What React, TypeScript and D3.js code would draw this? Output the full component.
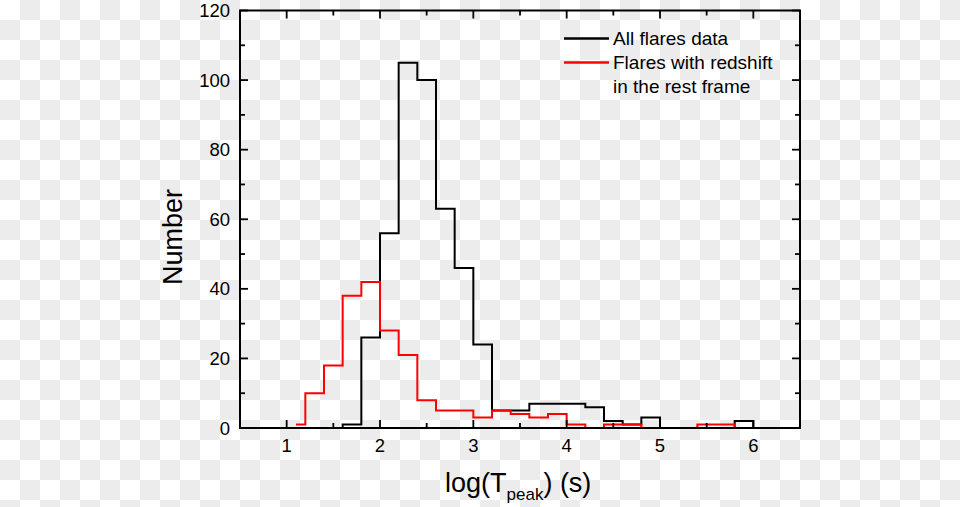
import React from 'react';
import * as d3 from 'd3';

// bin centres (log T_peak) and counts
const allCenters = [1.5, 1.7, 1.9, 2.1, 2.3, 2.5, 2.7, 2.9, 3.1, 3.3, 3.5, 3.7, 3.9, 4.1, 4.3, 4.5, 4.7, 4.9, 5.1, 5.3, 5.5, 5.7, 5.9, 6.1];
const allCounts = [0, 1, 26, 56, 105, 100, 63, 46, 24, 5, 5, 7, 7, 7, 6, 2, 1, 3, 0, 0, 0, 0, 2, 0];

const restCenters = [1.1, 1.3, 1.5, 1.7, 1.9, 2.1, 2.3, 2.5, 2.7, 2.9, 3.1, 3.3, 3.5, 3.7, 3.9, 4.1, 4.3, 4.5, 4.7, 4.9, 5.1, 5.3, 5.5, 5.7, 5.9];
const restCounts = [1, 10, 18, 38, 42, 28, 21, 8, 5, 5, 3, 5, 4, 3, 4, 1, 0, 1, 1, 0, 0, 0, 1, 1, 0];

const xMajor = [1, 2, 3, 4, 5, 6];
const xMinor = [0.5, 1.5, 2.5, 3.5, 4.5, 5.5, 6.5];
const yMajor = [0, 20, 40, 60, 80, 100, 120];
const yMinor = [10, 30, 50, 70, 90, 110];

const legendItems = [
  { lines: ['All flares data'], color: '#000000' },
  { lines: ['Flares with redshift', 'in the rest frame'], color: '#ff0000' },
];

const W = 960;
const H = 507;
const left = 240, right = 800, top = 10.5, bottom = 428;
const font = '"Liberation Sans", Arial, sans-serif';

const App: React.FC = () => {
  const x = d3.scaleLinear().domain([0.5, 6.5]).range([left, right]);
  const y = d3.scaleLinear().domain([0, 120]).range([bottom, top]);

  const line = d3.line<[number, number]>()
    .x(d => x(d[0]))
    .y(d => y(d[1]))
    .curve(d3.curveStep);

  const allPath = line(allCenters.map((c, i) => [c, allCounts[i]]) as [number, number][]) || '';
  const restPath = line(restCenters.map((c, i) => [c, restCounts[i]]) as [number, number][]) || '';

  const major = 8;
  const minor = 5;

  return (
    <svg width={W} height={H} style={{ position: 'absolute', left: 0, top: 0 }} fontFamily={font}>
      <defs>
        <pattern id="checker" width={40} height={40} patternUnits="userSpaceOnUse">
          <rect width={40} height={40} fill="#ffffff" />
          <rect x={20} y={0} width={20} height={20} fill="#ececec" />
          <rect x={0} y={20} width={20} height={20} fill="#ececec" />
        </pattern>
      </defs>
      <rect width={W} height={H} fill="url(#checker)" />

      {/* histograms */}
      <path d={allPath} fill="none" stroke="#000" strokeWidth={2} />
      <path d={restPath} fill="none" stroke="#ff0000" strokeWidth={2} />

      {/* frame */}
      <rect x={left} y={top} width={right - left} height={bottom - top} fill="none" stroke="#000" strokeWidth={2} />

      {/* x ticks, bottom and top */}
      {xMajor.map(v => (
        <g key={'xM' + v}>
          <line x1={x(v)} x2={x(v)} y1={bottom} y2={bottom - major} stroke="#000" strokeWidth={1.8} />
          <line x1={x(v)} x2={x(v)} y1={top} y2={top + major} stroke="#000" strokeWidth={1.8} />
          <text x={x(v)} y={451.5} textAnchor="middle" fontSize={18.5}>{v}</text>
        </g>
      ))}
      {xMinor.map(v => (
        <g key={'xm' + v}>
          <line x1={x(v)} x2={x(v)} y1={bottom} y2={bottom - minor} stroke="#000" strokeWidth={1.8} />
          <line x1={x(v)} x2={x(v)} y1={top} y2={top + minor} stroke="#000" strokeWidth={1.8} />
        </g>
      ))}

      {/* y ticks, left and right */}
      {yMajor.map(v => (
        <g key={'yM' + v}>
          <line x1={left} x2={left + major} y1={y(v)} y2={y(v)} stroke="#000" strokeWidth={1.8} />
          <line x1={right} x2={right - major} y1={y(v)} y2={y(v)} stroke="#000" strokeWidth={1.8} />
          <text x={230} y={y(v)} dy="0.36em" textAnchor="end" fontSize={18.5}>{v}</text>
        </g>
      ))}
      {yMinor.map(v => (
        <g key={'ym' + v}>
          <line x1={left} x2={left + minor} y1={y(v)} y2={y(v)} stroke="#000" strokeWidth={1.8} />
          <line x1={right} x2={right - minor} y1={y(v)} y2={y(v)} stroke="#000" strokeWidth={1.8} />
        </g>
      ))}

      {/* axis titles */}
      <text x={445} y={491.5} fontSize={27}>
        log(T<tspan fontSize={17} dy={8}>peak</tspan><tspan dy={-8}>) (s)</tspan>
      </text>
      <text transform="translate(182,237) rotate(-90)" textAnchor="middle" fontSize={27}>Number</text>

      {/* legend */}
      {legendItems.map((item, i) => {
        const ly = 38.5 + i * 24;
        return (
          <g key={'lg' + i}>
            <line x1={564} x2={609} y1={ly} y2={ly} stroke={item.color} strokeWidth={2.5} />
            {item.lines.map((t, j) => (
              <text key={j} x={613} y={ly + 6.5 + j * 23.7} fontSize={19}>{t}</text>
            ))}
          </g>
        );
      })}
    </svg>
  );
};

export default App;
